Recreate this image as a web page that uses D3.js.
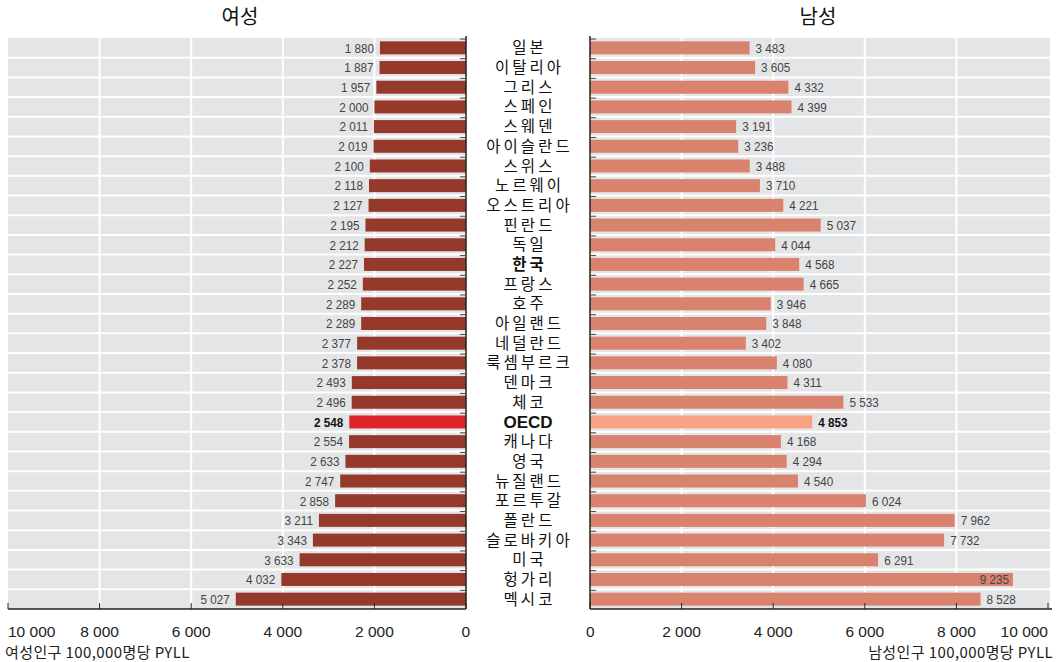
<!DOCTYPE html>
<html>
<head>
<meta charset="utf-8">
<script src="https://cdn.jsdelivr.net/npm/d3@7"></script>
<style>
  body { margin: 0; background: #fff; }
</style>
</head>
<body>
<div class="vis"></div>
<script>
const countries = ["일본", "이탈리아", "그리스", "스페인", "스웨덴", "아이슬란드", "스위스", "노르웨이", "오스트리아", "핀란드",
    "독일", "한국", "프랑스", "호주", "아일랜드", "네덜란드", "룩셈부르크", "덴마크", "체코", "OECD",
    "캐나다", "영국", "뉴질랜드", "포르투갈", "폴란드", "슬로바키아", "미국", "헝가리", "멕시코"];
const female = [1880, 1887, 1957, 2000, 2011, 2019, 2100, 2118, 2127, 2195,
    2212, 2227, 2252, 2289, 2289, 2377, 2378, 2493, 2496, 2548,
    2554, 2633, 2747, 2858, 3211, 3343, 3633, 4032, 5027];
const male = [3483, 3605, 4332, 4399, 3191, 3236, 3488, 3710, 4221, 5037,
    4044, 4568, 4665, 3946, 3848, 3402, 4080, 4311, 5533, 4853,
    4168, 4294, 4540, 6024, 7962, 7732, 6291, 9235, 8528];
const ticks = [0, 2000, 4000, 6000, 8000, 10000];
const tickLabels = ["0", "2 000", "4 000", "6 000", "8 000", "10 000"];

const width = 1058, height = 662,
    plotTop = 38, plotBottom = 609;

const numFont = "'Liberation Sans Narrow', 'Arial Narrow', 'Liberation Sans', sans-serif",
    korFont = "'Noto Sans CJK KR', 'Noto Sans', sans-serif",
    axisFont = "'Liberation Sans', Arial, sans-serif";

const fmt = v => d3.format(",")(v).replace(",", " ");

let svg = d3.select(".vis")
    .append("svg")
    .attr("width", width)
    .attr("height", height)

let y = d3.scaleBand()
    .domain(countries)
    .range([plotTop, plotBottom])

const rowH = y.step();
const rowTop = i => plotTop + i * rowH;

let xL = d3.scaleLinear().domain([0, 10000]).range([466, 8]);
let xR = d3.scaleLinear().domain([0, 10000]).range([590, 1048]);

function panel(x, values, side) {
    let g = svg.append("g");
    let x0 = x(0), x1 = x(10000);
    let lo = Math.min(x0, x1), hi = Math.max(x0, x1);
    let bgRight = side === "R" ? hi + 2 : hi;

    // grey background
    g.append("rect")
        .attr("x", lo).attr("y", plotTop)
        .attr("width", bgRight - lo).attr("height", plotBottom - plotTop)
        .style("fill", "#e4e5e7")

    // white row separators
    g.selectAll(".sep")
        .data(d3.range(1, countries.length))
        .enter().append("line")
        .attr("x1", lo).attr("x2", bgRight)
        .attr("y1", i => rowTop(i)).attr("y2", i => rowTop(i))
        .style("stroke", "#fff").style("stroke-width", 2)

    // white vertical grid
    g.selectAll(".grid")
        .data(ticks.slice(1, -1))
        .enter().append("line")
        .attr("x1", d => x(d)).attr("x2", d => x(d))
        .attr("y1", plotTop).attr("y2", plotBottom)
        .style("stroke", "#fff").style("stroke-width", 2)

    // bars
    g.selectAll(".bar")
        .data(values)
        .enter().append("rect")
        .attr("x", d => Math.min(x(0), x(d)))
        .attr("y", (d, i) => y(countries[i]) + rowH / 2 - 6.5)
        .attr("width", d => Math.abs(x(d) - x(0)))
        .attr("height", 13)
        .style("fill", (d, i) => {
            let oecd = countries[i] === "OECD";
            if (side === "L") return oecd ? "#e0222b" : "#953a2b";
            return oecd ? "#f6a283" : "#d9826e";
        })

    // value labels (squeezed a little to look condensed)
    g.selectAll(".val")
        .data(values)
        .enter().append("text")
        .attr("transform", (d, i) => {
            let tx;
            if (side === "L") tx = x(d) - 6;
            else tx = x(d) > 1000 ? x(d) - 4 : x(d) + 6;
            return "translate(" + tx + "," + (y(countries[i]) + rowH / 2) + ") scale(0.9,1)";
        })
        .attr("dy", "0.37em")
        .attr("text-anchor", d => (side === "L" || x(d) > 1000) ? "end" : "start")
        .text(d => fmt(d))
        .style("font-family", numFont)
        .style("font-size", "13px")
        .style("font-weight", (d, i) => countries[i] === "OECD" ? "bold" : "normal")
        .style("fill", (d, i) => countries[i] === "OECD" ? "#111" : "#444")

    // axis line at zero
    g.append("line")
        .attr("x1", x0).attr("x2", x0)
        .attr("y1", plotTop - 2).attr("y2", plotBottom)
        .style("stroke", "#222").style("stroke-width", 1.5)

    // small ticks at row boundaries on zero axis
    g.selectAll(".rt")
        .data(d3.range(0, countries.length))
        .enter().append("line")
        .attr("x1", x0).attr("x2", side === "L" ? x0 - 6 : x0 + 6)
        .attr("y1", i => rowTop(i) + 1).attr("y2", i => rowTop(i) + 1)
        .style("stroke", "#444").style("stroke-width", 1)

    // bottom axis
    g.append("line")
        .attr("x1", lo).attr("x2", side === "R" ? hi + 4 : hi)
        .attr("y1", plotBottom).attr("y2", plotBottom)
        .style("stroke", "#222").style("stroke-width", 1.5)

    g.selectAll(".bt")
        .data(ticks)
        .enter().append("line")
        .attr("x1", d => x(d)).attr("x2", d => x(d))
        .attr("y1", plotBottom).attr("y2", plotBottom - 6)
        .style("stroke", "#222").style("stroke-width", 1)

    g.selectAll(".tl")
        .data(ticks)
        .enter().append("text")
        .attr("x", d => x(d))
        .attr("y", 637)
        .attr("text-anchor", d => {
            if (d === 10000) return side === "L" ? "start" : "end";
            if (d === 0) return side === "L" ? "end" : "start";
            return "middle";
        })
        .attr("dx", d => d === 0 ? (side === "L" ? 4 : -4) : 0)
        .text((d, i) => tickLabels[i])
        .style("font-family", axisFont)
        .style("font-size", "15.5px")
        .style("fill", "#222")
}

panel(xL, female, "L");
panel(xR, male, "R");

// country names
svg.selectAll(".cn")
    .data(countries)
    .enter().append("text")
    .attr("x", 528)
    .attr("y", d => y(d) + rowH / 2)
    .attr("dy", "0.36em")
    .attr("dx", d => d === "OECD" ? 0 : 1.5)
    .attr("text-anchor", "middle")
    .text(d => d)
    .style("font-family", d => d === "OECD" ? axisFont : korFont)
    .style("font-size", d => d === "OECD" ? "17px" : "15.5px")
    .style("letter-spacing", d => d === "OECD" ? "0px" : "3px")
    .style("font-weight", d => (d === "OECD" || d === "한국") ? "bold" : "normal")
    .style("fill", "#111")

// titles
svg.append("text")
    .attr("x", 240).attr("y", 24)
    .attr("text-anchor", "middle")
    .text("여성")
    .style("font-family", korFont).style("font-size", "20px").style("fill", "#111")

svg.append("text")
    .attr("x", 818).attr("y", 24)
    .attr("text-anchor", "middle")
    .text("남성")
    .style("font-family", korFont).style("font-size", "20px").style("fill", "#111")

// axis titles
svg.append("text")
    .attr("x", 5).attr("y", 658)
    .text("여성인구 100,000명당 PYLL")
    .style("font-family", korFont).style("font-size", "15px")
    .style("letter-spacing", "0.4px").style("fill", "#222")

svg.append("text")
    .attr("x", 1053).attr("y", 658)
    .attr("text-anchor", "end")
    .text("남성인구 100,000명당 PYLL")
    .style("font-family", korFont).style("font-size", "15px")
    .style("letter-spacing", "0.4px").style("fill", "#222")
</script>
</body>
</html>
